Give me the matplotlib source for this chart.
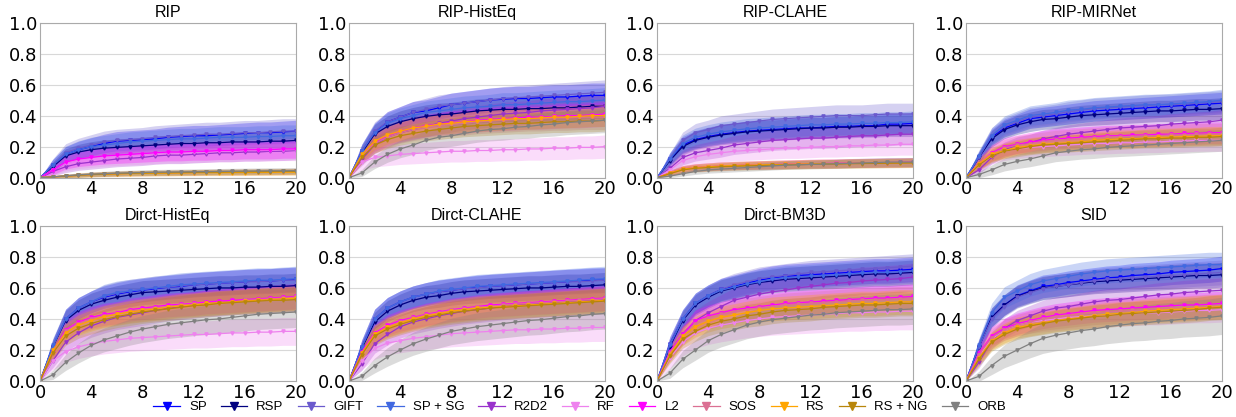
import numpy as np
import matplotlib.pyplot as plt

methods = ['SP', 'RSP', 'GIFT', 'SP + SG', 'R2D2', 'RF', 'L2', 'SOS', 'RS', 'RS + NG', 'ORB']
colors = ['#0000ff', '#000080', '#6a5acd', '#4169e1', '#9932cc', '#ee82ee',
          '#ff00ff', '#db7093', '#ffa500', '#b8860b', '#808080']
titles = ['RIP', 'RIP-HistEq', 'RIP-CLAHE', 'RIP-MIRNet',
          'Dirct-HistEq', 'Dirct-CLAHE', 'Dirct-BM3D', 'SID']
x = np.arange(0, 21)

# mean curves per panel, rows in the order of `methods`
rip = [
    [0, .08, .15, .18, .20, .22, .235, .24, .245, .25, .26, .265, .27, .27, .275, .28, .285, .29, .29, .295, .30],
    [0, .07, .14, .165, .18, .19, .195, .20, .205, .21, .215, .22, .22, .225, .225, .23, .23, .23, .235, .235, .24],
    [0, .08, .16, .19, .21, .23, .24, .245, .25, .26, .265, .27, .275, .28, .28, .285, .29, .29, .295, .30, .30],
    [0, .08, .15, .18, .20, .21, .22, .23, .235, .24, .245, .25, .25, .255, .26, .26, .26, .265, .265, .27, .27],
    [0, .04, .07, .09, .10, .11, .12, .125, .13, .14, .145, .145, .15, .155, .16, .16, .165, .165, .17, .17, .175],
    [0, .05, .095, .115, .125, .135, .14, .145, .15, .155, .16, .16, .165, .165, .17, .17, .175, .175, .175, .18, .18],
    [0, .05, .10, .12, .13, .14, .145, .15, .155, .16, .165, .165, .17, .17, .175, .175, .18, .18, .18, .185, .185],
    [0, .005, .01, .015, .02, .022, .025, .027, .028, .03, .03, .032, .033, .034, .035, .035, .036, .037, .038, .038, .04],
    [0, .005, .01, .015, .02, .022, .024, .026, .027, .028, .029, .03, .031, .032, .032, .033, .033, .034, .034, .035, .035],
    [0, .005, .01, .015, .02, .023, .026, .028, .03, .031, .032, .033, .034, .035, .036, .037, .038, .038, .039, .04, .04],
    [0, .005, .012, .018, .022, .026, .029, .031, .033, .035, .036, .037, .038, .039, .04, .041, .042, .043, .044, .044, .045],
]
rip_histeq = [
    [0, .17, .29, .36, .39, .42, .43, .45, .47, .48, .49, .50, .505, .51, .51, .515, .52, .52, .525, .53, .53],
    [0, .16, .28, .33, .36, .38, .395, .405, .41, .42, .43, .435, .44, .44, .445, .445, .45, .45, .455, .46, .46],
    [0, .17, .30, .36, .39, .42, .44, .46, .47, .48, .49, .50, .51, .515, .52, .525, .53, .535, .54, .545, .55],
    [0, .17, .29, .35, .38, .40, .42, .43, .44, .45, .455, .46, .47, .47, .475, .48, .485, .49, .49, .495, .50],
    [0, .12, .21, .26, .29, .31, .33, .35, .365, .38, .39, .40, .41, .415, .42, .43, .435, .44, .445, .45, .46],
    [0, .10, .13, .14, .15, .155, .16, .165, .17, .17, .175, .175, .18, .18, .185, .185, .19, .19, .195, .195, .20],
    [0, .14, .23, .27, .30, .32, .335, .345, .355, .36, .37, .375, .38, .385, .39, .39, .395, .40, .40, .405, .41],
    [0, .14, .22, .26, .29, .31, .325, .335, .345, .35, .36, .365, .37, .375, .38, .38, .385, .385, .39, .39, .39],
    [0, .15, .235, .275, .30, .32, .33, .345, .35, .36, .365, .37, .375, .38, .38, .385, .39, .39, .395, .40, .40],
    [0, .13, .21, .245, .27, .285, .30, .31, .32, .33, .335, .34, .345, .35, .35, .355, .36, .36, .365, .365, .37],
    [0, .03, .10, .15, .185, .21, .24, .26, .27, .285, .30, .31, .315, .325, .33, .34, .345, .355, .36, .365, .37],
]
rip_clahe = [
    [0, .12, .21, .245, .265, .28, .29, .30, .305, .31, .315, .32, .32, .325, .33, .33, .335, .335, .345, .345, .35],
    [0, .11, .20, .24, .26, .275, .285, .295, .30, .305, .31, .315, .32, .32, .325, .325, .33, .33, .335, .335, .335],
    [0, .12, .24, .29, .31, .335, .345, .355, .365, .375, .38, .385, .39, .395, .40, .40, .40, .405, .41, .41, .41],
    [0, .12, .22, .26, .28, .295, .305, .315, .32, .325, .33, .335, .34, .34, .345, .345, .35, .35, .355, .355, .36],
    [0, .06, .13, .16, .175, .19, .21, .22, .23, .24, .245, .25, .255, .255, .26, .265, .27, .27, .275, .28, .28],
    [0, .05, .11, .135, .15, .16, .17, .175, .18, .185, .19, .19, .195, .20, .20, .205, .205, .21, .21, .215, .215],
    [0, .03, .055, .065, .07, .075, .078, .08, .082, .084, .086, .088, .09, .091, .092, .094, .095, .096, .097, .098, .10],
    [0, .03, .055, .065, .07, .075, .078, .08, .082, .084, .086, .088, .09, .091, .092, .094, .095, .096, .097, .098, .10],
    [0, .03, .055, .065, .07, .075, .078, .08, .082, .084, .085, .087, .088, .09, .09, .092, .093, .094, .095, .096, .097],
    [0, .025, .05, .06, .065, .07, .073, .076, .078, .08, .082, .084, .086, .087, .088, .09, .091, .092, .093, .094, .095],
    [0, .01, .025, .04, .05, .055, .06, .065, .07, .075, .08, .082, .085, .087, .09, .092, .095, .097, .10, .10, .10],
]
rip_mirnet = [
    [0, .13, .26, .32, .35, .38, .39, .40, .41, .42, .43, .435, .44, .445, .45, .455, .46, .465, .47, .475, .48],
    [0, .13, .25, .31, .34, .36, .375, .38, .39, .40, .405, .41, .415, .42, .425, .43, .43, .435, .44, .44, .445],
    [0, .13, .27, .33, .36, .39, .40, .41, .425, .435, .445, .45, .455, .46, .465, .47, .47, .475, .48, .485, .49],
    [0, .14, .27, .34, .37, .40, .41, .42, .435, .44, .45, .455, .46, .465, .47, .47, .475, .48, .485, .49, .50],
    [0, .05, .13, .18, .21, .225, .25, .265, .28, .29, .30, .31, .32, .325, .33, .335, .345, .35, .355, .36, .37],
    [0, .08, .14, .17, .185, .195, .20, .205, .21, .215, .22, .22, .225, .225, .23, .23, .235, .235, .24, .24, .24],
    [0, .09, .16, .20, .215, .23, .24, .25, .255, .26, .265, .27, .27, .275, .275, .28, .28, .285, .285, .29, .29],
    [0, .09, .155, .19, .21, .22, .23, .24, .245, .25, .255, .26, .265, .265, .27, .27, .275, .275, .28, .28, .28],
    [0, .09, .15, .175, .195, .205, .215, .22, .225, .23, .24, .245, .25, .25, .255, .26, .26, .265, .265, .27, .27],
    [0, .08, .14, .17, .185, .20, .21, .215, .22, .225, .23, .235, .24, .245, .25, .25, .255, .255, .26, .26, .265],
    [0, .02, .05, .085, .105, .12, .14, .16, .17, .18, .185, .195, .20, .205, .21, .215, .22, .225, .23, .235, .24],
]
dirct_histeq = [
    [0, .22, .40, .47, .51, .54, .56, .575, .585, .595, .605, .61, .62, .625, .63, .635, .64, .645, .645, .65, .655],
    [0, .22, .39, .455, .495, .52, .54, .555, .57, .575, .58, .585, .59, .595, .60, .60, .605, .605, .61, .61, .615],
    [0, .22, .40, .47, .51, .545, .565, .58, .59, .60, .605, .615, .62, .625, .63, .635, .64, .64, .645, .65, .65],
    [0, .23, .40, .47, .51, .55, .57, .58, .59, .60, .61, .62, .625, .63, .635, .64, .645, .65, .65, .655, .66],
    [0, .13, .25, .31, .355, .385, .41, .425, .44, .455, .47, .48, .49, .50, .505, .515, .52, .525, .53, .535, .54],
    [0, .13, .19, .22, .24, .255, .265, .275, .28, .285, .29, .295, .30, .30, .305, .31, .31, .315, .315, .32, .32],
    [0, .19, .33, .38, .41, .43, .44, .46, .47, .48, .49, .495, .50, .51, .515, .52, .525, .53, .535, .54, .545],
    [0, .18, .32, .37, .40, .42, .435, .45, .46, .47, .48, .49, .495, .50, .505, .51, .52, .525, .53, .535, .54],
    [0, .20, .31, .36, .39, .415, .43, .445, .455, .465, .475, .485, .49, .50, .505, .51, .515, .52, .525, .53, .535],
    [0, .18, .29, .34, .37, .395, .415, .43, .445, .455, .465, .475, .485, .49, .50, .505, .51, .515, .52, .52, .525],
    [0, .04, .12, .18, .23, .265, .29, .315, .335, .35, .365, .375, .385, .395, .40, .41, .42, .43, .435, .44, .445],
]
dirct_clahe = [
    [0, .22, .40, .47, .51, .54, .56, .575, .585, .595, .605, .61, .615, .62, .625, .63, .635, .64, .645, .65, .65],
    [0, .21, .38, .45, .49, .52, .54, .55, .565, .575, .58, .585, .59, .595, .60, .60, .605, .61, .61, .615, .62],
    [0, .22, .40, .47, .51, .54, .56, .575, .585, .595, .60, .61, .615, .62, .625, .63, .635, .64, .64, .645, .65],
    [0, .22, .40, .47, .51, .54, .56, .58, .59, .60, .61, .615, .62, .625, .63, .635, .64, .645, .65, .655, .66],
    [0, .11, .24, .30, .35, .38, .40, .42, .435, .45, .46, .47, .48, .49, .495, .50, .505, .51, .515, .52, .525],
    [0, .13, .21, .245, .26, .275, .285, .295, .305, .31, .315, .32, .325, .33, .33, .335, .335, .34, .34, .345, .345],
    [0, .19, .31, .36, .39, .41, .43, .445, .46, .47, .48, .49, .495, .50, .505, .51, .515, .52, .525, .53, .535],
    [0, .18, .30, .35, .38, .405, .425, .44, .455, .465, .475, .48, .49, .495, .50, .505, .51, .515, .52, .525, .53],
    [0, .18, .30, .345, .375, .40, .42, .435, .45, .46, .47, .475, .48, .485, .49, .495, .50, .505, .51, .515, .52],
    [0, .17, .29, .335, .365, .39, .41, .425, .44, .45, .46, .47, .475, .48, .485, .49, .495, .50, .505, .51, .515],
    [0, .03, .10, .155, .20, .24, .27, .295, .32, .335, .35, .36, .37, .38, .39, .395, .405, .415, .42, .43, .435],
]
dirct_bm3d = [
    [0, .24, .40, .50, .55, .59, .61, .63, .65, .665, .675, .68, .685, .69, .695, .70, .705, .71, .71, .715, .72],
    [0, .22, .39, .49, .54, .58, .60, .62, .635, .645, .655, .66, .665, .67, .675, .68, .685, .69, .69, .695, .70],
    [0, .24, .40, .50, .55, .59, .62, .64, .66, .67, .68, .69, .70, .705, .71, .715, .72, .725, .73, .735, .74],
    [0, .23, .40, .50, .55, .585, .605, .625, .64, .655, .665, .67, .675, .68, .685, .69, .695, .70, .70, .705, .71],
    [0, .18, .30, .39, .44, .48, .52, .54, .56, .575, .585, .60, .61, .62, .63, .635, .645, .65, .655, .66, .67],
    [0, .15, .25, .31, .34, .36, .375, .39, .40, .41, .415, .42, .425, .43, .435, .44, .44, .445, .445, .45, .45],
    [0, .19, .30, .39, .42, .44, .46, .47, .48, .49, .50, .505, .51, .515, .52, .525, .53, .535, .535, .54, .545],
    [0, .18, .29, .37, .405, .43, .445, .46, .47, .48, .49, .495, .50, .505, .51, .515, .52, .52, .525, .53, .53],
    [0, .17, .29, .35, .385, .41, .425, .44, .455, .465, .47, .475, .48, .485, .49, .495, .50, .50, .505, .51, .51],
    [0, .16, .27, .32, .36, .385, .40, .42, .43, .445, .455, .46, .465, .475, .48, .485, .49, .49, .495, .50, .50],
    [0, .05, .14, .20, .26, .30, .33, .36, .38, .395, .405, .415, .425, .43, .44, .445, .45, .455, .46, .46, .465],
]
sid = [
    [0, .22, .41, .49, .55, .58, .61, .62, .635, .645, .655, .665, .67, .68, .685, .69, .70, .705, .71, .715, .725],
    [0, .22, .41, .49, .545, .575, .60, .61, .62, .63, .64, .645, .65, .655, .66, .665, .67, .675, .68, .68, .685],
    [0, .22, .40, .48, .54, .57, .595, .61, .62, .635, .645, .655, .66, .665, .67, .675, .68, .685, .69, .695, .70],
    [0, .23, .44, .54, .58, .62, .645, .66, .675, .69, .70, .71, .715, .72, .725, .73, .735, .74, .745, .75, .75],
    [0, .12, .26, .34, .39, .42, .45, .47, .48, .495, .51, .52, .525, .535, .545, .555, .56, .57, .575, .58, .585],
    [0, .16, .27, .33, .36, .38, .39, .40, .41, .415, .42, .425, .43, .435, .44, .44, .445, .45, .455, .455, .46],
    [0, .18, .29, .34, .37, .39, .41, .425, .435, .445, .455, .46, .465, .47, .475, .48, .485, .49, .49, .495, .50],
    [0, .17, .28, .33, .36, .38, .40, .41, .42, .43, .44, .445, .45, .455, .46, .465, .47, .47, .475, .48, .48],
    [0, .15, .26, .31, .345, .36, .375, .39, .40, .41, .42, .43, .435, .44, .45, .455, .46, .465, .47, .475, .48],
    [0, .14, .25, .30, .335, .355, .37, .385, .395, .405, .415, .42, .43, .435, .44, .445, .45, .455, .46, .47, .475],
    [0, .03, .10, .16, .20, .24, .275, .295, .31, .325, .335, .35, .36, .37, .375, .385, .39, .40, .405, .41, .42],
]

# spread (std) at rank 20 per panel, same order as methods
rip_std = [0.07, 0.06, 0.08, 0.07, 0.06, 0.07, 0.06, 0.02, 0.02, 0.02, 0.02]
rip_histeq_std = [0.08, 0.08, 0.08, 0.08, 0.08, 0.075, 0.08, 0.08, 0.07, 0.07, 0.08]
rip_clahe_std = [0.07, 0.07, 0.07, 0.07, 0.07, 0.07, 0.03, 0.03, 0.03, 0.03, 0.03]
rip_mirnet_std = [0.07, 0.07, 0.07, 0.07, 0.07, 0.07, 0.07, 0.07, 0.06, 0.06, 0.07]
dirct_histeq_std = [0.08, 0.08, 0.08, 0.08, 0.09, 0.09, 0.08, 0.08, 0.08, 0.08, 0.10]
dirct_clahe_std = [0.08, 0.08, 0.08, 0.08, 0.09, 0.09, 0.08, 0.08, 0.08, 0.08, 0.10]
dirct_bm3d_std = [0.08, 0.08, 0.08, 0.08, 0.09, 0.12, 0.08, 0.08, 0.08, 0.08, 0.10]
sid_std = [0.08, 0.08, 0.08, 0.08, 0.08, 0.08, 0.08, 0.08, 0.08, 0.08, 0.12]

panels = [rip, rip_histeq, rip_clahe, rip_mirnet, dirct_histeq, dirct_clahe, dirct_bm3d, sid]
spreads = [rip_std, rip_histeq_std, rip_clahe_std, rip_mirnet_std,
           dirct_histeq_std, dirct_clahe_std, dirct_bm3d_std, sid_std]

fig = plt.figure(figsize=(12.36, 4.17), dpi=100)
lefts = [0.0324, 0.2824, 0.5316, 0.7816]
bottoms = [0.574, 0.0863]
w, h = 0.207, 0.372

handles = []
for k in range(8):
    ax = fig.add_axes([lefts[k % 4], bottoms[k // 4], w, h])
    for i, m in enumerate(methods):
        mean = np.array(panels[k][i])
        s = spreads[k][i] * np.sqrt(mean / mean[-1])
        ax.fill_between(x, mean - s, mean + s, color=colors[i], alpha=0.28, linewidth=0)
    for i, m in enumerate(methods):
        mean = np.array(panels[k][i])
        ln, = ax.plot(x, mean, color=colors[i], marker='v', markersize=2.3, linewidth=0.9, label=m)
        if k == 0:
            handles.append(ln)
    ax.set_xlim(0, 20)
    ax.set_ylim(0, 1)
    ax.set_xticks([0, 4, 8, 12, 16, 20])
    ax.set_yticks([0, 0.2, 0.4, 0.6, 0.8, 1.0])
    ax.tick_params(length=0, labelsize=13, pad=2)
    ax.grid(axis='y', color='#d8d8d8', linewidth=0.8)
    ax.set_axisbelow(True)
    for sp in ax.spines.values():
        sp.set_color('#aaaaaa')
    ax.set_title(titles[k], fontsize=11.5, family='Liberation Sans', pad=4)

fig.legend(handles=handles, loc='lower center', ncol=11, frameon=False,
           bbox_to_anchor=(0.469, -0.02), prop={'family': 'Liberation Sans', 'size': 9.5},
           handlelength=2.0, columnspacing=1.05, handletextpad=0.7, markerscale=2.4)

fig.savefig('out.png', dpi=100)
